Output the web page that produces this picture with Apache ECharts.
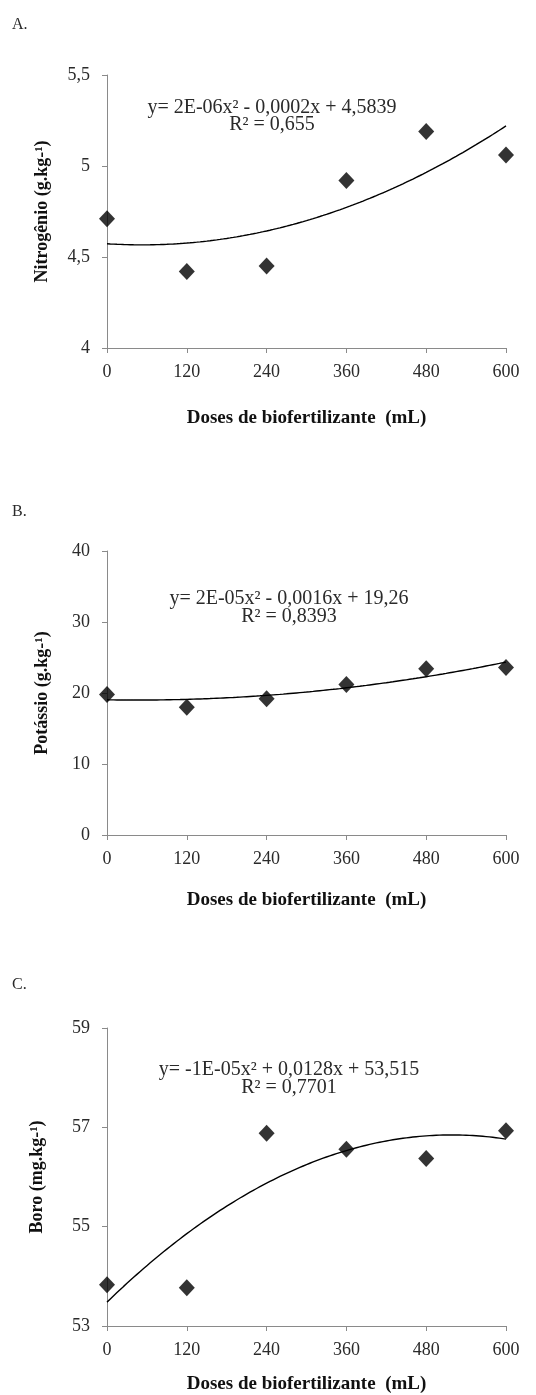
<!DOCTYPE html>
<html>
<head>
<meta charset="utf-8">
<script src="https://cdn.jsdelivr.net/npm/echarts@6/dist/echarts.min.js"></script>
<style>
html,body{margin:0;padding:0;background:#fff;}
#chart{width:536px;height:1395px;}
</style>
</head>
<body>
<div id="chart"></div>
<script>
// ---- data ----
const doses = [0, 120, 240, 360, 480, 600];
const nitrogenio = [4.71, 4.42, 4.45, 4.92, 5.19, 5.06];
const potassio = [19.8, 18.0, 19.2, 21.2, 23.4, 23.6];
const boro = [53.83, 53.77, 56.88, 56.56, 56.37, 56.93];
const xTicks = [0, 120, 240, 360, 480, 600];
const yTicksA = [4, 4.5, 5, 5.5];
const yTicksB = [0, 10, 20, 30, 40];
const yTicksC = [53, 55, 57, 59];
const panelLetters = ['A.', 'B.', 'C.'];
const equations = ['y= 2E-06x² - 0,0002x + 4,5839', 'y= 2E-05x² - 0,0016x + 19,26', 'y= -1E-05x² + 0,0128x + 53,515'];
const rSquared = ['R² = 0,655', 'R² = 0,8393', 'R² = 0,7701'];
const yNames = ['Nitrogênio (g.kg-¹)', 'Potássio (g.kg-¹)', 'Boro (mg.kg-¹)'];
const xName = 'Doses de biofertilizante  (mL)';

// quadratic least-squares trendline from the data
function quadFit(xs, ys) {
  let s = [0,0,0,0,0], t = [0,0,0];
  for (let i = 0; i < xs.length; i++) {
    let p = 1;
    for (let k = 0; k < 5; k++) { s[k] += p; p *= xs[i]; }
    t[0] += ys[i]; t[1] += ys[i]*xs[i]; t[2] += ys[i]*xs[i]*xs[i];
  }
  const M = [[s[0],s[1],s[2],t[0]],[s[1],s[2],s[3],t[1]],[s[2],s[3],s[4],t[2]]];
  for (let c = 0; c < 3; c++) {
    for (let r = c+1; r < 3; r++) {
      const f = M[r][c]/M[c][c];
      for (let k = c; k < 4; k++) M[r][k] -= f*M[c][k];
    }
  }
  const sol = [0,0,0];
  for (let r = 2; r >= 0; r--) {
    let v = M[r][3];
    for (let k = r+1; k < 3; k++) v -= M[r][k]*sol[k];
    sol[r] = v/M[r][r];
  }
  return sol; // c0, c1, c2
}
function trend(xs, ys) {
  const c = quadFit(xs, ys);
  const pts = [];
  for (let x = xs[0]; x <= xs[xs.length-1]; x += 5) pts.push([x, c[0] + c[1]*x + c[2]*x*x]);
  return pts;
}

const FONT = 'Liberation Serif';
const axisColor = '#8a8a8a';
const textColor = '#2a2a2a';
const fmt = v => String(v).replace('.', ',');

const grids = [
  {left: 107, width: 399, top: 75, height: 273},
  {left: 107, width: 399, top: 551, height: 284},
  {left: 107, width: 399, top: 1028, height: 303}
];
const yDefs = [
  {min: 4, max: 5.5, ticks: yTicksA, gap: 56},
  {min: 0, max: 40, ticks: yTicksB, gap: 56},
  {min: 53, max: 59, ticks: yTicksC, gap: 61}
];
const xGaps = [61, 56, 49];
const allY = [nitrogenio, potassio, boro];

const xAxes = grids.map((g, i) => ({
  type: 'value', gridIndex: i, min: 0, max: 600,
  axisLine: {show: true, lineStyle: {color: axisColor, width: 1}},
  axisTick: {show: true, length: 5, lineStyle: {color: axisColor}, customValues: xTicks},
  axisLabel: {customValues: xTicks, margin: 15, fontFamily: FONT, fontSize: 18, color: textColor},
  splitLine: {show: false},
  name: xName, nameLocation: 'middle', nameGap: xGaps[i],
  nameTextStyle: {fontFamily: FONT, fontSize: 19, fontWeight: 'bold', color: '#111'}
}));
const yAxes = yDefs.map((d, i) => ({
  type: 'value', gridIndex: i, min: d.min, max: d.max,
  axisLine: {show: true, lineStyle: {color: axisColor, width: 1}},
  axisTick: {show: true, length: 5, lineStyle: {color: axisColor}, customValues: d.ticks},
  axisLabel: {customValues: d.ticks, margin: 17, fontFamily: FONT, fontSize: 18, color: textColor, formatter: fmt},
  splitLine: {show: false},
  name: yNames[i], nameLocation: 'middle', nameGap: d.gap, nameRotate: 90,
  nameTextStyle: {fontFamily: FONT, fontSize: 18, fontWeight: 'bold', color: '#111'}
}));

const series = [];
allY.forEach((ys, i) => {
  series.push({
    type: 'line', xAxisIndex: i, yAxisIndex: i,
    data: trend(doses, ys), showSymbol: false, smooth: false,
    lineStyle: {color: '#000', width: 1.4}, silent: true, z: 2
  });
  series.push({
    type: 'scatter', xAxisIndex: i, yAxisIndex: i,
    data: doses.map((x, k) => [x, ys[k]]),
    symbol: 'diamond', symbolSize: [16, 17],
    itemStyle: {color: '#000'}, z: 3
  });
});

const letterY = [25, 512, 985];
const eqPos = [[272, 108, 125], [289, 599, 617], [289, 1070, 1088]];
const graphic = [];
panelLetters.forEach((t, i) => {
  graphic.push({type: 'text', x: 12, y: letterY[i], style: {text: t, font: '16px "' + FONT + '"', fill: textColor, verticalAlign: 'middle'}});
  graphic.push({type: 'text', x: eqPos[i][0], y: eqPos[i][1], style: {text: equations[i], font: '20px "' + FONT + '"', fill: textColor, align: 'center', verticalAlign: 'middle'}});
  graphic.push({type: 'text', x: eqPos[i][0], y: eqPos[i][2], style: {text: rSquared[i], font: '20px "' + FONT + '"', fill: textColor, align: 'center', verticalAlign: 'middle'}});
});

const chart = echarts.init(document.getElementById('chart'), null, {renderer: 'canvas'});
chart.setOption({
  backgroundColor: '#fff',
  animation: false,
  grid: grids,
  xAxis: xAxes,
  yAxis: yAxes,
  series: series,
  graphic: graphic
});
</script>
</body>
</html>
